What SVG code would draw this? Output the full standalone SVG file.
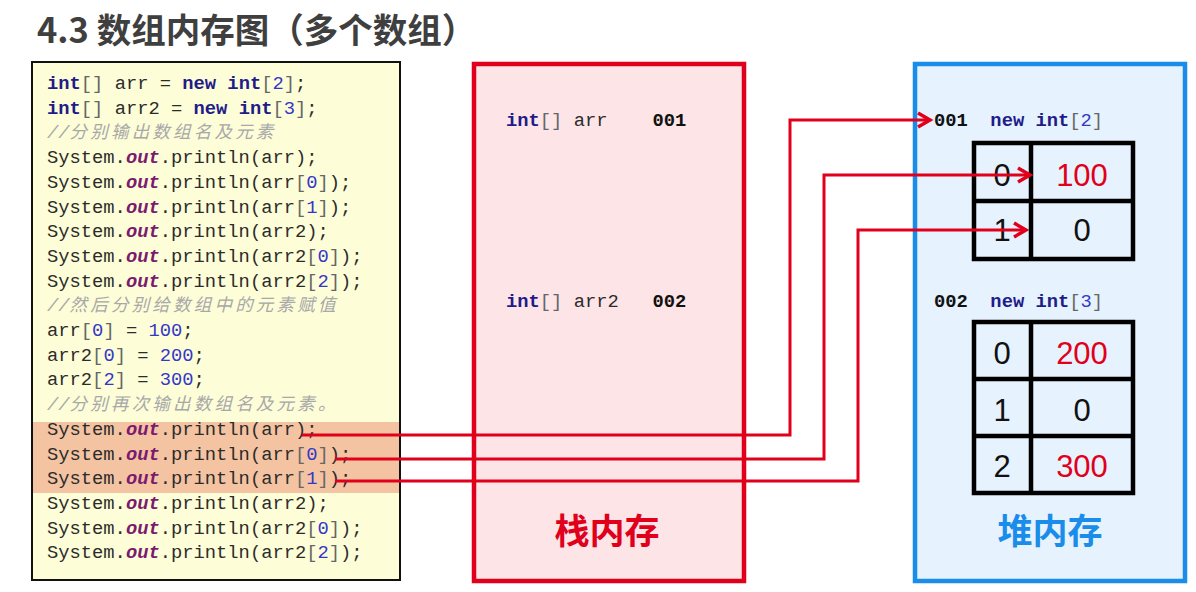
<svg xmlns="http://www.w3.org/2000/svg" width="1196" height="592" viewBox="0 0 1196 592">
<style>
.c{font-family:"Liberation Mono","DejaVu Sans Mono",monospace;font-size:18.8px;fill:#2b2b2b;white-space:pre}
.kw{font-weight:bold;fill:#1f1c8a}
.br{fill:#666}
.n{fill:#3338c8}
.o{font-weight:bold;font-style:italic;fill:#7b1a6e}
.cm{fill:#a8a8a8;font-style:italic}
.cj{font-family:"Noto Sans CJK SC",sans-serif;font-size:17.5px;letter-spacing:3.2px}
.b{font-weight:bold;fill:#111}
.cell{font-family:"Liberation Sans","Noto Sans",sans-serif;font-size:31px;text-anchor:middle;fill:#111}
.red{fill:#e0001b}
.grid{fill:none;stroke:#000;stroke-width:4.5}
.conn{fill:none;stroke:#e0001b;stroke-width:3}
</style>
<defs>
<marker id="ah" markerUnits="userSpaceOnUse" markerWidth="20" markerHeight="20" refX="14" refY="8" orient="auto" overflow="visible">
<path d="M2,1 L14,8 L2,15" fill="none" stroke="#e0001b" stroke-width="3.5"/>
</marker>
</defs>
<rect width="1196" height="592" fill="#fff"/>
<text id="title" x="37" y="43" font-family="Noto Sans CJK SC,sans-serif" font-weight="bold" font-size="34.5" fill="#3f3f3f">4.3 数组内存图（多个数组）</text>

<g id="code">
<rect x="32" y="62" width="368" height="518" fill="#fdfdd8" stroke="#111" stroke-width="2"/>
<rect x="33" y="422" width="366" height="71" fill="#f4c3a2"/>
<text class="c" x="47" y="89"><tspan class="kw">int</tspan><tspan class="br">[]</tspan> arr = <tspan class="kw">new</tspan> <tspan class="kw">int</tspan><tspan class="br">[</tspan><tspan class="n">2</tspan><tspan class="br">]</tspan>;</text>
<text class="c" x="47" y="113.7"><tspan class="kw">int</tspan><tspan class="br">[]</tspan> arr2 = <tspan class="kw">new</tspan> <tspan class="kw">int</tspan><tspan class="br">[</tspan><tspan class="n">3</tspan><tspan class="br">]</tspan>;</text>
<text class="c cm" x="47" y="138.4">//<tspan class="cj">分别输出数组名及元素</tspan></text>
<text class="c" x="47" y="163.1">System.<tspan class="o">out</tspan>.println(arr);</text>
<text class="c" x="47" y="187.8">System.<tspan class="o">out</tspan>.println(arr<tspan class="br">[</tspan><tspan class="n">0</tspan><tspan class="br">]</tspan>);</text>
<text class="c" x="47" y="212.5">System.<tspan class="o">out</tspan>.println(arr<tspan class="br">[</tspan><tspan class="n">1</tspan><tspan class="br">]</tspan>);</text>
<text class="c" x="47" y="237.2">System.<tspan class="o">out</tspan>.println(arr2);</text>
<text class="c" x="47" y="261.9">System.<tspan class="o">out</tspan>.println(arr2<tspan class="br">[</tspan><tspan class="n">0</tspan><tspan class="br">]</tspan>);</text>
<text class="c" x="47" y="286.6">System.<tspan class="o">out</tspan>.println(arr2<tspan class="br">[</tspan><tspan class="n">2</tspan><tspan class="br">]</tspan>);</text>
<text class="c cm" x="47" y="311.3">//<tspan class="cj">然后分别给数组中的元素赋值</tspan></text>
<text class="c" x="47" y="336">arr<tspan class="br">[</tspan><tspan class="n">0</tspan><tspan class="br">]</tspan> = <tspan class="n">100</tspan>;</text>
<text class="c" x="47" y="360.7">arr2<tspan class="br">[</tspan><tspan class="n">0</tspan><tspan class="br">]</tspan> = <tspan class="n">200</tspan>;</text>
<text class="c" x="47" y="385.4">arr2<tspan class="br">[</tspan><tspan class="n">2</tspan><tspan class="br">]</tspan> = <tspan class="n">300</tspan>;</text>
<text class="c cm" x="47" y="410.1">//<tspan class="cj">分别再次输出数组名及元素。</tspan></text>
<text class="c" x="47" y="434.8">System.<tspan class="o">out</tspan>.println(arr);</text>
<text class="c" x="47" y="459.5">System.<tspan class="o">out</tspan>.println(arr<tspan class="br">[</tspan><tspan class="n">0</tspan><tspan class="br">]</tspan>);</text>
<text class="c" x="47" y="484.2">System.<tspan class="o">out</tspan>.println(arr<tspan class="br">[</tspan><tspan class="n">1</tspan><tspan class="br">]</tspan>);</text>
<text class="c" x="47" y="508.9">System.<tspan class="o">out</tspan>.println(arr2);</text>
<text class="c" x="47" y="533.6">System.<tspan class="o">out</tspan>.println(arr2<tspan class="br">[</tspan><tspan class="n">0</tspan><tspan class="br">]</tspan>);</text>
<text class="c" x="47" y="558.3">System.<tspan class="o">out</tspan>.println(arr2<tspan class="br">[</tspan><tspan class="n">2</tspan><tspan class="br">]</tspan>);</text>
</g>

<g id="stack">
<rect x="474" y="64" width="270" height="517" fill="#fde4e6" stroke="#e0001b" stroke-width="4.5"/>
<text class="c" x="506" y="126"><tspan class="kw">int</tspan><tspan class="br">[]</tspan> arr    <tspan class="b">001</tspan></text>
<text class="c" x="506" y="307"><tspan class="kw">int</tspan><tspan class="br">[]</tspan> arr2   <tspan class="b">002</tspan></text>
<text x="607" y="544" text-anchor="middle" font-family="Noto Sans CJK SC,sans-serif" font-weight="bold" font-size="35" fill="#e0001b">栈内存</text>
</g>

<g id="heap">
<rect x="915" y="64" width="270" height="517" fill="#e6f2fd" stroke="#1a8cea" stroke-width="4.5"/>
<text class="c" x="934" y="126"><tspan class="b">001</tspan>  <tspan class="kw">new</tspan> <tspan class="kw">int</tspan><tspan class="br">[</tspan><tspan class="n">2</tspan><tspan class="br">]</tspan></text>
<text class="c" x="934" y="307"><tspan class="b">002</tspan>  <tspan class="kw">new</tspan> <tspan class="kw">int</tspan><tspan class="br">[</tspan><tspan class="n">3</tspan><tspan class="br">]</tspan></text>
<text x="1050" y="544" text-anchor="middle" font-family="Noto Sans CJK SC,sans-serif" font-weight="bold" font-size="35" fill="#1a8cea">堆内存</text>
</g>

<g id="array1">
<rect class="grid" x="974" y="143" width="159" height="116"/>
<line class="grid" x1="1031" y1="143" x2="1031" y2="259"/>
<line class="grid" x1="974" y1="201" x2="1133" y2="201"/>
<text class="cell" x="1002" y="186">0</text>
<text class="cell red" x="1082" y="186">100</text>
<text class="cell" x="1002" y="241">1</text>
<text class="cell" x="1082" y="241">0</text>
</g>

<g id="array2">
<rect class="grid" x="974" y="322" width="159" height="171"/>
<line class="grid" x1="1031" y1="322" x2="1031" y2="493"/>
<line class="grid" x1="974" y1="379" x2="1133" y2="379"/>
<line class="grid" x1="974" y1="436" x2="1133" y2="436"/>
<text class="cell" x="1002" y="364">0</text>
<text class="cell red" x="1082" y="364">200</text>
<text class="cell" x="1002" y="421">1</text>
<text class="cell" x="1082" y="421">0</text>
<text class="cell" x="1002" y="477">2</text>
<text class="cell red" x="1082" y="477">300</text>
</g>

<g id="connectors">
<path class="conn" d="M302,435 H790 V120 H930" marker-end="url(#ah)"/>
<path class="conn" d="M335,459 H824 V175 H1030" marker-end="url(#ah)"/>
<path class="conn" d="M335,481 H858 V230 H1026" marker-end="url(#ah)"/>
</g>
</svg>
